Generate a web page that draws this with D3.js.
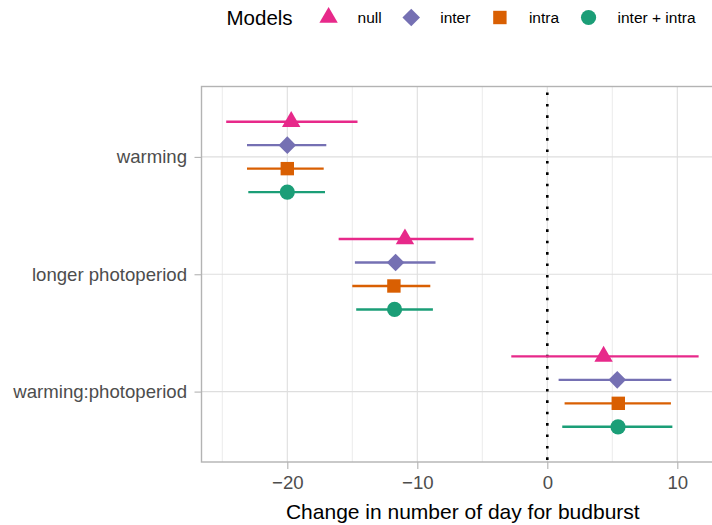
<!DOCTYPE html>
<html>
<head>
<meta charset="utf-8">
<script src="https://cdn.jsdelivr.net/npm/d3@7"></script>
<style>
  body { margin: 0; background: #fff; }
  svg { display: block; font-family: "Liberation Sans", Arial, sans-serif; }
</style>
</head>
<body>
<div id="chart"></div>
<script>
// data
var categories = ["warming", "longer photoperiod", "warming:photoperiod"];
var models = ["null", "inter", "intra", "inter + intra"];
var colors = ["#E7298A", "#7570B3", "#D95F02", "#1B9E77"];

var estNull  = [-19.7, -10.95, 4.33];
var loNull   = [-24.7, -16.05, -2.77];
var hiNull   = [-14.6, -5.67, 11.64];

var estInter = [-20.0, -11.67, 5.38];
var loInter  = [-23.1, -14.8, 0.87];
var hiInter  = [-17.0, -8.6, 9.54];

var estIntra = [-20.0, -11.8, 5.46];
var loIntra  = [-23.1, -15.0, 1.33];
var hiIntra  = [-17.2, -9.0, 9.51];

var estBoth  = [-20.0, -11.75, 5.44];
var loBoth   = [-23.0, -14.7, 1.15];
var hiBoth   = [-17.1, -8.8, 9.62];

var majorTicks = [-20, -10, 0, 10];
var minorTicks = [-25, -15, -5, 5];
var xLimits = [-26.6, 13.6];

var series = [
  {est: estNull,  lo: loNull,  hi: hiNull},
  {est: estInter, lo: loInter, hi: hiInter},
  {est: estIntra, lo: loIntra, hi: hiIntra},
  {est: estBoth,  lo: loBoth,  hi: hiBoth}
];

// settings
var W = 712, H = 525;
var margin = {top: 86.5, left: 201.5, bottom: 63};
var panelW = 13 * (xLimits[1] - xLimits[0]), panelH = H - margin.top - margin.bottom;

var svg = d3.select("#chart").append("svg")
    .attr("width", W).attr("height", H);

var x = d3.scaleLinear().domain(xLimits).range([margin.left, margin.left + panelW]);
var y = d3.scalePoint().domain(categories)
    .range([margin.top, margin.top + panelH]).padding(0.6);
var dodge = d3.scalePoint().domain(models).range([-0.3, 0.3]);

var grid = svg.append("g");
grid.selectAll(".minor").data(minorTicks).enter().append("line")
    .attr("x1", function(d) { return x(d); }).attr("x2", function(d) { return x(d); })
    .attr("y1", margin.top).attr("y2", margin.top + panelH)
    .attr("stroke", "#e6e6e6").attr("stroke-width", 0.8);
grid.selectAll(".major").data(majorTicks).enter().append("line")
    .attr("x1", function(d) { return x(d); }).attr("x2", function(d) { return x(d); })
    .attr("y1", margin.top).attr("y2", margin.top + panelH)
    .attr("stroke", "#dedede").attr("stroke-width", 1.1);
grid.selectAll(".hgrid").data(categories).enter().append("line")
    .attr("x1", margin.left).attr("x2", margin.left + panelW)
    .attr("y1", function(d) { return y(d); }).attr("y2", function(d) { return y(d); })
    .attr("stroke", "#dedede").attr("stroke-width", 1.1);

// zero line
svg.append("line")
    .attr("x1", x(0)).attr("x2", x(0))
    .attr("y1", margin.top + 6).attr("y2", margin.top + panelH)
    .attr("stroke", "#000").attr("stroke-width", 2.6)
    .attr("stroke-dasharray", "2.6 8.8");

// marker shapes
function shape(i, s) {
  if (i === 0) { // triangle, centroid at 0
    var w = 18.4 * s, h = w * Math.sqrt(3) / 2;
    return "M0," + (-2 * h / 3) + "L" + (w / 2) + "," + (h / 3) + "L" + (-w / 2) + "," + (h / 3) + "Z";
  }
  if (i === 1) { var r = 8.8 * s; return "M0," + (-r) + "L" + r + ",0L0," + r + "L" + (-r) + ",0Z"; }
  if (i === 2) { var a = 6.7 * s; return "M" + (-a) + "," + (-a) + "H" + a + "V" + a + "H" + (-a) + "Z"; }
  var c = 7.6 * s;
  return "M" + (-c) + ",0A" + c + "," + c + " 0 1,0 " + c + ",0A" + c + "," + c + " 0 1,0 " + (-c) + ",0Z";
}

var step = y.step();
series.forEach(function(s, i) {
  var g = svg.append("g");
  var rows = categories.map(function(c, j) {
    return {cat: c, est: s.est[j], lo: s.lo[j], hi: s.hi[j]};
  });
  var cy = function(d) { return y(d.cat) + dodge(models[i]) * step; };
  g.selectAll("line").data(rows).enter().append("line")
    .attr("x1", function(d) { return x(d.lo); })
    .attr("x2", function(d) { return x(d.hi); })
    .attr("y1", cy).attr("y2", cy)
    .attr("stroke", colors[i]).attr("stroke-width", 2.4);
  g.selectAll("path").data(rows).enter().append("path")
    .attr("d", shape(i, 1))
    .attr("transform", function(d) { return "translate(" + x(d.est) + "," + cy(d) + ")"; })
    .attr("fill", colors[i]);
});

// panel border
svg.append("rect")
    .attr("x", margin.left).attr("y", margin.top)
    .attr("width", panelW).attr("height", panelH)
    .attr("fill", "none").attr("stroke", "#b3b3b3").attr("stroke-width", 1.4);

// axes
var xAxis = svg.append("g")
    .attr("transform", "translate(0," + (margin.top + panelH) + ")")
    .call(d3.axisBottom(x).tickValues(majorTicks).tickSize(7).tickPadding(6.5)
      .tickFormat(function(d) { return d < 0 ? "\u2212" + Math.abs(d) : d; }));
var yAxis = svg.append("g")
    .attr("transform", "translate(" + margin.left + ",0)")
    .call(d3.axisLeft(y).tickSize(7).tickPadding(7.5));
[xAxis, yAxis].forEach(function(a) {
  a.select(".domain").remove();
  a.selectAll(".tick line").attr("stroke", "#b3b3b3").attr("stroke-width", 1.1);
  a.selectAll(".tick text").attr("fill", "#4d4d4d").attr("font-size", 18.6)
    .attr("font-family", "Liberation Sans, Arial, sans-serif");
});

svg.append("text")
    .attr("x", margin.left + panelW / 2).attr("y", 519)
    .attr("text-anchor", "middle").attr("font-size", 21)
    .text("Change in number of day for budburst");

// legend
var legend = svg.append("g");
var title = legend.append("text")
    .attr("x", 226.5).attr("y", 25).attr("font-size", 20.5).text("Models");
var cx = 226.5 + title.node().getComputedTextLength() + 36;
models.forEach(function(m, i) {
  legend.append("path").attr("d", shape(i, 1))
    .attr("transform", "translate(" + cx + ",17.5)").attr("fill", colors[i]);
  var t = legend.append("text").attr("x", cx + 29).attr("y", 23)
    .attr("font-size", 15.5).text(m);
  cx = cx + 29 + t.node().getComputedTextLength() + 29.5;
});
</script>
</body>
</html>
